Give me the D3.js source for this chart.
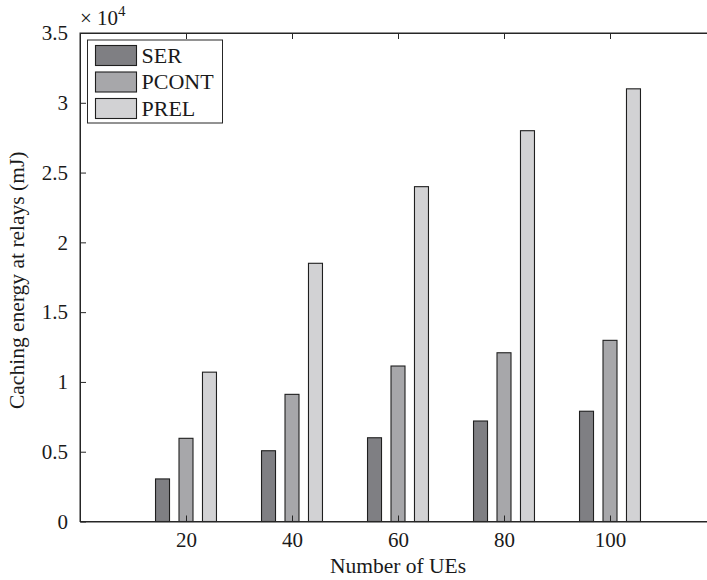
<!DOCTYPE html>
<html>
<head>
<meta charset="utf-8">
<script src="https://cdn.jsdelivr.net/npm/d3@7"></script>
<style>
  html, body { margin: 0; padding: 0; background: #fff; }
  svg { display: block; font-family: "Liberation Serif", "Times New Roman", serif; }
</style>
</head>
<body>
<div id="chart"></div>
<script>
// Caching energy at relays versus number of UEs
const ueCounts = [20, 40, 60, 80, 100];
const seriesNames = ["SER", "PCONT", "PREL"];
const serValues = [3050, 5070, 6000, 7200, 7900];
const pcontValues = [5960, 9110, 11140, 12090, 12980];
const prelValues = [10700, 18500, 23990, 28000, 31000];
const seriesColors = ["#7f7f83", "#a7a7aa", "#d2d2d4"];
const yTicks = [0, 5000, 10000, 15000, 20000, 25000, 30000, 35000];
const xTicks = [20, 40, 60, 80, 100];

const seriesValues = [serValues, pcontValues, prelValues];

const W = 707, H = 580;
const plotLeft = 80, plotRight = 716, plotTop = 33, plotBottom = 521.5;

const svg = d3.select("#chart").append("svg")
  .attr("width", W).attr("height", H);

const x = d3.scaleLinear().domain([0, 120]).range([plotLeft, plotRight]);
const y = d3.scaleLinear().domain([0, 35000]).range([plotBottom, plotTop]);

// group layout in data units
const barOffset = 4.43;
const barWidth = 2.64;

const groups = svg.append("g");
seriesValues.forEach((vals, si) => {
  groups.selectAll(null)
    .data(vals.map((v, i) => ({ x: ueCounts[i], v })))
    .enter().append("rect")
    .attr("x", d => x(d.x + (si - 1) * barOffset - barWidth / 2))
    .attr("width", d => x(d.x + barWidth / 2) - x(d.x - barWidth / 2))
    .attr("y", d => y(d.v))
    .attr("height", d => y(0) - y(d.v))
    .attr("fill", seriesColors[si])
    .attr("stroke", "#1f1f1f")
    .attr("stroke-width", 1.1);
});

const axisColor = "#262626";
const tickLen = 6;

// axes box
svg.append("rect")
  .attr("x", plotLeft).attr("y", plotTop)
  .attr("width", plotRight - plotLeft).attr("height", plotBottom - plotTop)
  .attr("fill", "none").attr("stroke", axisColor).attr("stroke-width", 1);

// bottom axis, ticks pointing inward
const xAxis = d3.axisBottom(x).tickValues(xTicks).tickSizeInner(-tickLen).tickSizeOuter(0).tickPadding(12);
const gx = svg.append("g").attr("transform", `translate(0,${plotBottom})`).call(xAxis);
// top ticks
const gxt = svg.append("g").attr("transform", `translate(0,${plotTop})`)
  .call(d3.axisTop(x).tickValues(xTicks).tickSizeInner(-tickLen).tickSizeOuter(0).tickFormat(""));

// left axis
const yAxis = d3.axisLeft(y).tickValues(yTicks).tickSizeInner(-tickLen).tickSizeOuter(0)
  .tickPadding(12).tickFormat(d => d3.format("~g")(d / 10000));
const gy = svg.append("g").attr("transform", `translate(${plotLeft},0)`).call(yAxis);

[gx, gxt, gy].forEach(g => {
  g.select(".domain").attr("stroke", axisColor);
  g.selectAll(".tick line").attr("stroke", axisColor);
  g.selectAll(".tick text").attr("fill", "#1a1a1a")
    .style("font-family", "'Liberation Serif', serif").style("font-size", "21px");
});
gx.selectAll(".tick text").attr("dy", "0.62em");

// exponent label
const expo = svg.append("text").attr("x", 80).attr("y", 25)
  .attr("fill", "#1a1a1a").style("font-size", "21px");
expo.append("tspan").text("\u00d7 10");
expo.append("tspan").attr("dy", -9).style("font-size", "15px").text("4");

// axis titles
svg.append("text")
  .attr("x", (plotLeft + plotRight) / 2).attr("y", 573)
  .attr("text-anchor", "middle").attr("fill", "#1a1a1a")
  .style("font-size", "21.5px").text("Number of UEs");

svg.append("text")
  .attr("transform", `translate(24,${(plotTop + plotBottom) / 2 + 3}) rotate(-90)`)
  .attr("text-anchor", "middle").attr("fill", "#1a1a1a")
  .style("font-size", "21.5px").text("Caching energy at relays (mJ)");

// legend
const legend = svg.append("g");
legend.append("rect")
  .attr("x", 87.5).attr("y", 40).attr("width", 135).attr("height", 83)
  .attr("fill", "#fff").attr("stroke", axisColor).attr("stroke-width", 1);
seriesNames.forEach((name, i) => {
  const ry = 45.5 + i * 26.5;
  legend.append("rect")
    .attr("x", 95.5).attr("y", ry).attr("width", 41).attr("height", 20)
    .attr("fill", seriesColors[i]).attr("stroke", "#1f1f1f").attr("stroke-width", 1.1);
  legend.append("text")
    .attr("x", 141.5).attr("y", ry + 17)
    .attr("fill", "#1a1a1a").style("font-size", "22px").text(name);
});
</script>
</body>
</html>
